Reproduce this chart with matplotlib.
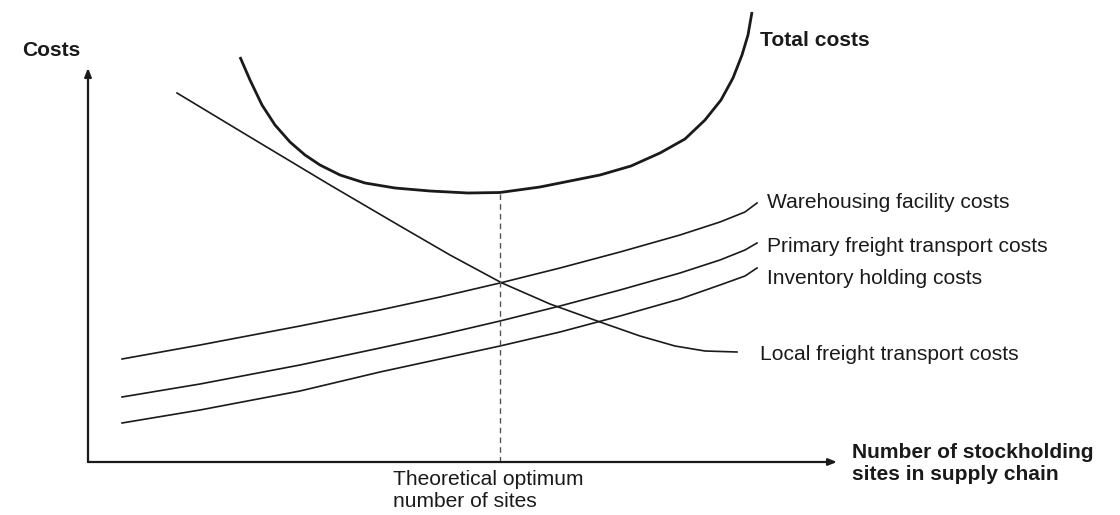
import matplotlib
matplotlib.use("Agg")
import matplotlib.pyplot as plt

plt.rcParams['font.family'] = ['Liberation Sans', 'DejaVu Sans']

# values (sites on x, costs on y, arbitrary units)
total_x = [15.2, 16.2, 17.4, 18.7, 20.2, 21.7, 23.2, 25.2, 27.7, 30.7, 34.2, 38.0, 41.2,
           45.2, 47.2, 51.2, 54.3, 57.2, 59.7, 61.7, 63.3, 64.5, 65.4, 66.0, 66.4]
total_y = [40.5, 38.2, 35.7, 33.7, 32.0, 30.7, 29.7, 28.7, 27.9, 27.4, 27.1, 26.9, 26.95,
           27.5, 27.9, 28.7, 29.6, 30.9, 32.3, 34.2, 36.2, 38.4, 40.7, 42.7, 45.0]

local_x = [8.9, 16.2, 24.2, 31.2, 36.2, 41.4, 46.2, 51.2, 55.2, 58.7, 61.7, 64.9]
local_y = [36.9, 32.5, 27.7, 23.6, 20.7, 17.9, 15.8, 14.0, 12.6, 11.6, 11.1, 11.0]

rising_x = [3.4, 11.2, 21.2, 29.2, 35.2, 41.2, 47.2, 53.2, 59.2, 63.2, 65.7, 66.9]
warehouse_y = [10.3, 11.7, 13.6, 15.2, 16.5, 17.9, 19.4, 21.0, 22.7, 24.0, 25.0, 25.9]
primary_y = [6.5, 7.8, 9.7, 11.4, 12.7, 14.1, 15.6, 17.2, 18.9, 20.2, 21.2, 21.9]
inventory_y = [3.9, 5.2, 7.1, 9.0, 10.3, 11.6, 13.0, 14.6, 16.3, 17.7, 18.6, 19.4]

optimum_x = 41.2
optimum_cost = 26.9
x_max, y_max = 74.9, 39.4

curve_labels = ['Warehousing facility costs', 'Primary freight transport costs',
                'Inventory holding costs', 'Local freight transport costs']

ink = '#1a1a1a'
fs = 15.1

fig = plt.figure(figsize=(11.2, 5.15), dpi=100)
ax = fig.add_axes([0, 0, 1, 1])
ax.set_xlim(-8.8, 103.2)
ax.set_ylim(-5.3, 46.2)
ax.axis('off')

# axes with arrow heads
arrow = dict(arrowstyle='-|>,head_length=0.5,head_width=0.2', color=ink, lw=1.6, shrinkA=0, shrinkB=0)
ax.annotate('', xy=(x_max, 0), xytext=(0, 0), arrowprops=arrow)
ax.annotate('', xy=(0, y_max), xytext=(0, 0), arrowprops=arrow)

ax.plot(total_x, total_y, color=ink, lw=2.0, solid_capstyle='butt', solid_joinstyle='round')
for ys in (warehouse_y, primary_y, inventory_y):
    ax.plot(rising_x, ys, color=ink, lw=1.2, solid_joinstyle='round')
ax.plot(local_x, local_y, color=ink, lw=1.2, solid_joinstyle='round')

ax.plot([optimum_x, optimum_x], [0, optimum_cost], color='#555555', lw=1.0, ls=(0, (4, 3)))

# labels
ax.text(-6.6, 41.2, 'Costs', fontsize=fs, fontweight='bold', color=ink, va='center', ha='left')
ax.text(67.2, 42.2, 'Total costs', fontsize=fs, fontweight='bold', color=ink, va='center', ha='left')
ax.text(67.9, 25.9, curve_labels[0], fontsize=fs, color=ink, va='center', ha='left')
ax.text(67.9, 21.5, curve_labels[1], fontsize=fs, color=ink, va='center', ha='left')
ax.text(67.9, 18.3, curve_labels[2], fontsize=fs, color=ink, va='center', ha='left')
ax.text(67.2, 10.7, curve_labels[3], fontsize=fs, color=ink, va='center', ha='left')

ax.text(76.4, -0.15, 'Number of stockholding\nsites in supply chain', fontsize=fs, fontweight='bold',
        color=ink, va='center', ha='left', linespacing=1.2)
ax.text(30.5, -2.85, 'Theoretical optimum\nnumber of sites', fontsize=fs, color=ink,
        va='center', ha='left', linespacing=1.15)

fig.savefig('out.png', dpi=100)
